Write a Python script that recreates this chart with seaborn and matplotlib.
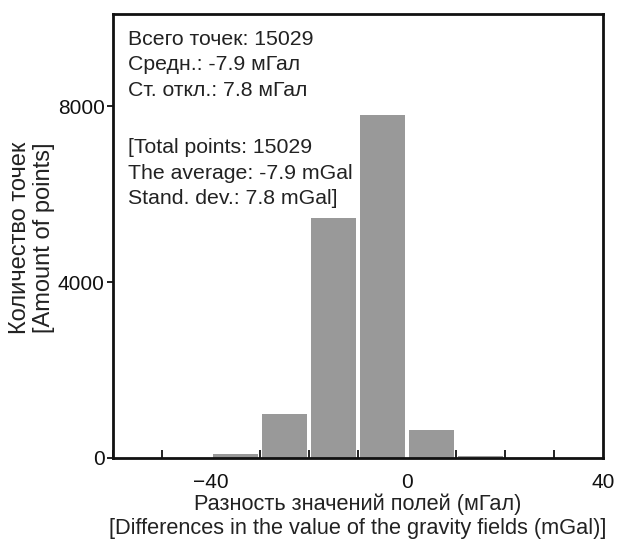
import numpy as np
import seaborn as sns
import matplotlib.pyplot as plt
from matplotlib.ticker import MultipleLocator

# histogram bins (mGal) and counts
bin_edges = [-50, -40, -30, -20, -10, 0, 10, 20, 30, 40]
counts = [10, 100, 1000, 5450, 7800, 640, 40, 10, 5]

stats_ru = "Всего точек: 15029\nСредн.: -7.9 мГал\nСт. откл.: 7.8 мГал"
stats_en = "[Total points: 15029\nThe average: -7.9 mGal\nStand. dev.: 7.8 mGal]"

sns.set_style("white")
plt.rcParams['font.family'] = ['Liberation Sans', 'DejaVu Sans']
plt.rcParams['text.color'] = '#222222'

fig = plt.figure(figsize=(6.33, 5.49), dpi=100)
ax = fig.add_axes([0.1785, 0.1658, 0.7741, 0.8087])

centers = (np.array(bin_edges[:-1]) + np.array(bin_edges[1:])) / 2
sns.histplot(x=centers, weights=counts, bins=bin_edges, shrink=0.92,
             color='#999999', alpha=1, edgecolor='none', ax=ax)

ax.set_xlim(-60, 40)
ax.set_ylim(0, 10100)
ax.set_xticks([-40, 0, 40])
ax.xaxis.set_minor_locator(MultipleLocator(10))
ax.set_yticks([0, 4000, 8000])
ax.tick_params(axis='x', which='both', direction='in', length=6, width=1.3,
               bottom=True, labelsize=15, colors='#111111', pad=11)
ax.tick_params(axis='x', which='major', length=0)
ax.tick_params(axis='y', direction='out', length=4, width=1.3, left=True,
               labelsize=15, colors='#111111', pad=2)
for s in ax.spines.values():
    s.set_color('#111111')
    s.set_linewidth(2)

ax.set_xlabel("Разность значений полей (мГал)\n[Differences in the value of the gravity fields (mGal)]",
              fontsize=15.7, color='#222222', labelpad=1, linespacing=1.2)
ax.set_ylabel("Количество точек\n[Amount of points]", fontsize=17,
              color='#222222', linespacing=1.15)
ax.yaxis.set_label_coords(-0.118, 0.495)

ax.text(0.03, 0.964, stats_ru, transform=ax.transAxes, va='top', ha='left',
        fontsize=15.3, linespacing=1.42)
ax.text(0.03, 0.72, stats_en, transform=ax.transAxes, va='top', ha='left',
        fontsize=15.3, linespacing=1.42)

fig.savefig("out.png", dpi=100)
